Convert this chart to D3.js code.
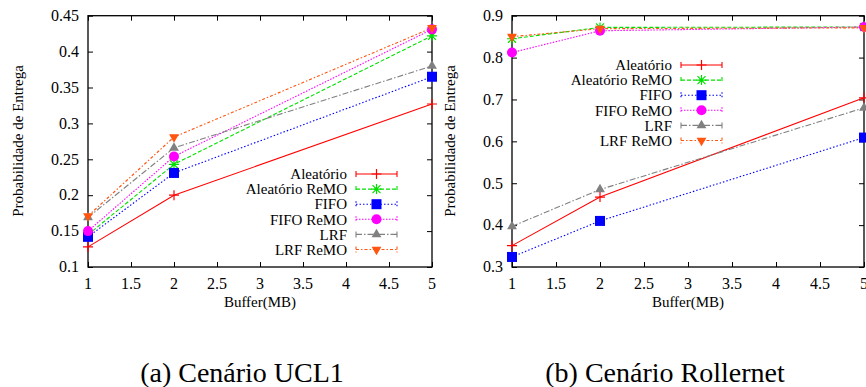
<!DOCTYPE html>
<html>
<head>
<meta charset="utf-8">
<script src="https://cdn.jsdelivr.net/npm/d3@7"></script>
</head>
<body style="margin:0; background:#fff">
<svg id="chart" width="866" height="387"></svg>
<script>
// buffer sizes (MB)
const buffers = [1, 2, 5];
const seriesNames = ["Aleatório", "Aleatório ReMO", "FIFO", "FIFO ReMO", "LRF", "LRF ReMO"];

// (a) UCL1
const ucl1Aleatorio = [0.128, 0.200, 0.327];
const ucl1AleatorioReMO = [0.145, 0.243, 0.422];
const ucl1Fifo = [0.142, 0.231, 0.365];
const ucl1FifoReMO = [0.150, 0.254, 0.431];
const ucl1Lrf = [0.169, 0.266, 0.380];
const ucl1LrfReMO = [0.171, 0.281, 0.433];

// (b) Rollernet
const rollAleatorio = [0.351, 0.467, 0.704];
const rollAleatorioReMO = [0.845, 0.872, 0.873];
const rollFifo = [0.324, 0.410, 0.609];
const rollFifoReMO = [0.812, 0.864, 0.873];
const rollLrf = [0.397, 0.485, 0.680];
const rollLrfReMO = [0.850, 0.869, 0.871];

const xTicks = [1, 1.5, 2, 2.5, 3, 3.5, 4, 4.5, 5];
const ucl1YTicks = [0.1, 0.15, 0.2, 0.25, 0.3, 0.35, 0.4, 0.45];
const rollYTicks = [0.3, 0.4, 0.5, 0.6, 0.7, 0.8, 0.9];

const FONT = "Times New Roman";

const styles = [
  { color: "#ff0000", dash: null, marker: "plus" },
  { color: "#00e000", dash: "4,2", marker: "star" },
  { color: "#0000ff", dash: "1.5,2", marker: "square" },
  { color: "#ff00ff", dash: "1.5,1.5", marker: "circle" },
  { color: "#808080", dash: "6,2,1.5,2", marker: "tri" },
  { color: "#ff5511", dash: "3,2,1.5,2", marker: "tridown" }
];

const svg = d3.select("#chart");

function label(sel, size) {
  return sel.style("font-family", FONT).attr("font-family", FONT).attr("font-size", size);
}

function drawMarker(g, type, x, y, color) {
  if (type === "plus") {
    g.append("path").attr("d", `M${x-5},${y}H${x+5}M${x},${y-5}V${y+5}`)
      .attr("stroke", color).attr("stroke-width", 1.2).attr("fill", "none");
  } else if (type === "star") {
    g.append("path")
      .attr("d", `M${x-5},${y}H${x+5}M${x},${y-5}V${y+5}M${x-4},${y-4}L${x+4},${y+4}M${x-4},${y+4}L${x+4},${y-4}`)
      .attr("stroke", color).attr("stroke-width", 1.2).attr("fill", "none");
  } else if (type === "square") {
    g.append("rect").attr("x", x - 5).attr("y", y - 5).attr("width", 10).attr("height", 10).attr("fill", color);
  } else if (type === "circle") {
    g.append("circle").attr("cx", x).attr("cy", y).attr("r", 5).attr("fill", color);
  } else if (type === "tri") {
    g.append("path").attr("d", d3.symbol(d3.symbolTriangle, 42)()).attr("transform", `translate(${x},${y})`).attr("fill", color);
  } else if (type === "tridown") {
    g.append("path").attr("d", d3.symbol(d3.symbolTriangle, 42)()).attr("transform", `translate(${x},${y}) rotate(180)`).attr("fill", color);
  }
}

function drawPanel(cfg) {
  const x = d3.scaleLinear().domain([1, 5]).range([cfg.left, cfg.right]);
  const y = d3.scaleLinear().domain(cfg.yDomain).range([267, 15.7]);
  const g = svg.append("g");

  // ticks (inward, mirrored), labels drawn separately
  const tickLen = 5;
  g.append("g").attr("transform", "translate(0,267)")
    .call(d3.axisBottom(x).tickValues(xTicks).tickSize(-tickLen).tickFormat(""))
    .call(a => a.select(".domain").remove());
  g.append("g").attr("transform", "translate(0,15.7)")
    .call(d3.axisTop(x).tickValues(xTicks).tickSize(-tickLen).tickFormat(""))
    .call(a => a.select(".domain").remove());
  g.append("g").attr("transform", `translate(${cfg.left},0)`)
    .call(d3.axisLeft(y).tickValues(cfg.yTicks).tickSize(-tickLen).tickFormat(""))
    .call(a => a.select(".domain").remove());
  g.append("g").attr("transform", `translate(${cfg.right},0)`)
    .call(d3.axisRight(y).tickValues(cfg.yTicks).tickSize(-tickLen).tickFormat(""))
    .call(a => a.select(".domain").remove());
  g.selectAll(".tick line").attr("stroke", "#000");
  g.selectAll(".tick text").remove();

  xTicks.forEach(t => {
    label(g.append("text"), 16).attr("x", x(t)).attr("y", 289).attr("text-anchor", "middle").text(t);
  });
  cfg.yTicks.forEach(t => {
    label(g.append("text"), 16).attr("x", cfg.left - 9).attr("y", y(t)).attr("dy", "0.33em")
      .attr("text-anchor", "end").text(t);
  });

  g.append("rect").attr("x", cfg.left).attr("y", 15.7)
    .attr("width", cfg.right - cfg.left).attr("height", 267 - 15.7)
    .attr("fill", "none").attr("stroke", "#000").attr("stroke-width", 1.3);

  // series
  const line = d3.line().x((d, i) => x(buffers[i])).y(d => y(d));
  cfg.series.forEach((vals, k) => {
    const s = styles[k];
    g.append("path").datum(vals).attr("d", line)
      .attr("fill", "none").attr("stroke", s.color).attr("stroke-width", 1.1)
      .attr("stroke-dasharray", s.dash);
  });
  cfg.series.forEach((vals, k) => {
    vals.forEach((v, i) => drawMarker(g, styles[k].marker, x(buffers[i]), y(v), styles[k].color));
  });

  // legend
  seriesNames.forEach((name, k) => {
    const s = styles[k];
    const ly = cfg.legendY + k * 15.1;
    label(g.append("text"), 15).attr("x", cfg.legendX).attr("y", ly).attr("dy", "0.35em")
      .attr("text-anchor", "end").text(name);
    const x0 = cfg.legendX + 9, x1 = cfg.legendX + 50;
    g.append("path").attr("d", `M${x0},${ly}H${x1}M${x0},${ly-3}V${ly+3}M${x1},${ly-3}V${ly+3}`)
      .attr("fill", "none").attr("stroke", s.color).attr("stroke-width", 1.1)
      .attr("stroke-dasharray", s.dash);
    drawMarker(g, s.marker, (x0 + x1) / 2, ly, s.color);
  });

  // axis labels
  label(g.append("text"), 15).attr("x", (cfg.left + cfg.right) / 2).attr("y", 302).attr("dy", "0.35em")
    .attr("text-anchor", "middle").text("Buffer(MB)");
  label(g.append("text"), 15).attr("transform", `translate(${cfg.yLabelX},141) rotate(-90)`)
    .attr("text-anchor", "middle").attr("dy", "0.35em").text("Probabilidade de Entrega");

  label(g.append("text"), 28).attr("x", cfg.captionX).attr("y", 382)
    .attr("text-anchor", "middle").text(cfg.caption);
}

drawPanel({
  left: 88, right: 432, yDomain: [0.1, 0.45], yTicks: ucl1YTicks,
  series: [ucl1Aleatorio, ucl1AleatorioReMO, ucl1Fifo, ucl1FifoReMO, ucl1Lrf, ucl1LrfReMO],
  legendX: 347, legendY: 174, yLabelX: 18, captionX: 242, caption: "(a) Cenário UCL1"
});
drawPanel({
  left: 512, right: 864, yDomain: [0.3, 0.9], yTicks: rollYTicks,
  series: [rollAleatorio, rollAleatorioReMO, rollFifo, rollFifoReMO, rollLrf, rollLrfReMO],
  legendX: 672, legendY: 65, yLabelX: 450, captionX: 665, caption: "(b) Cenário Rollernet"
});
</script>
</body>
</html>
